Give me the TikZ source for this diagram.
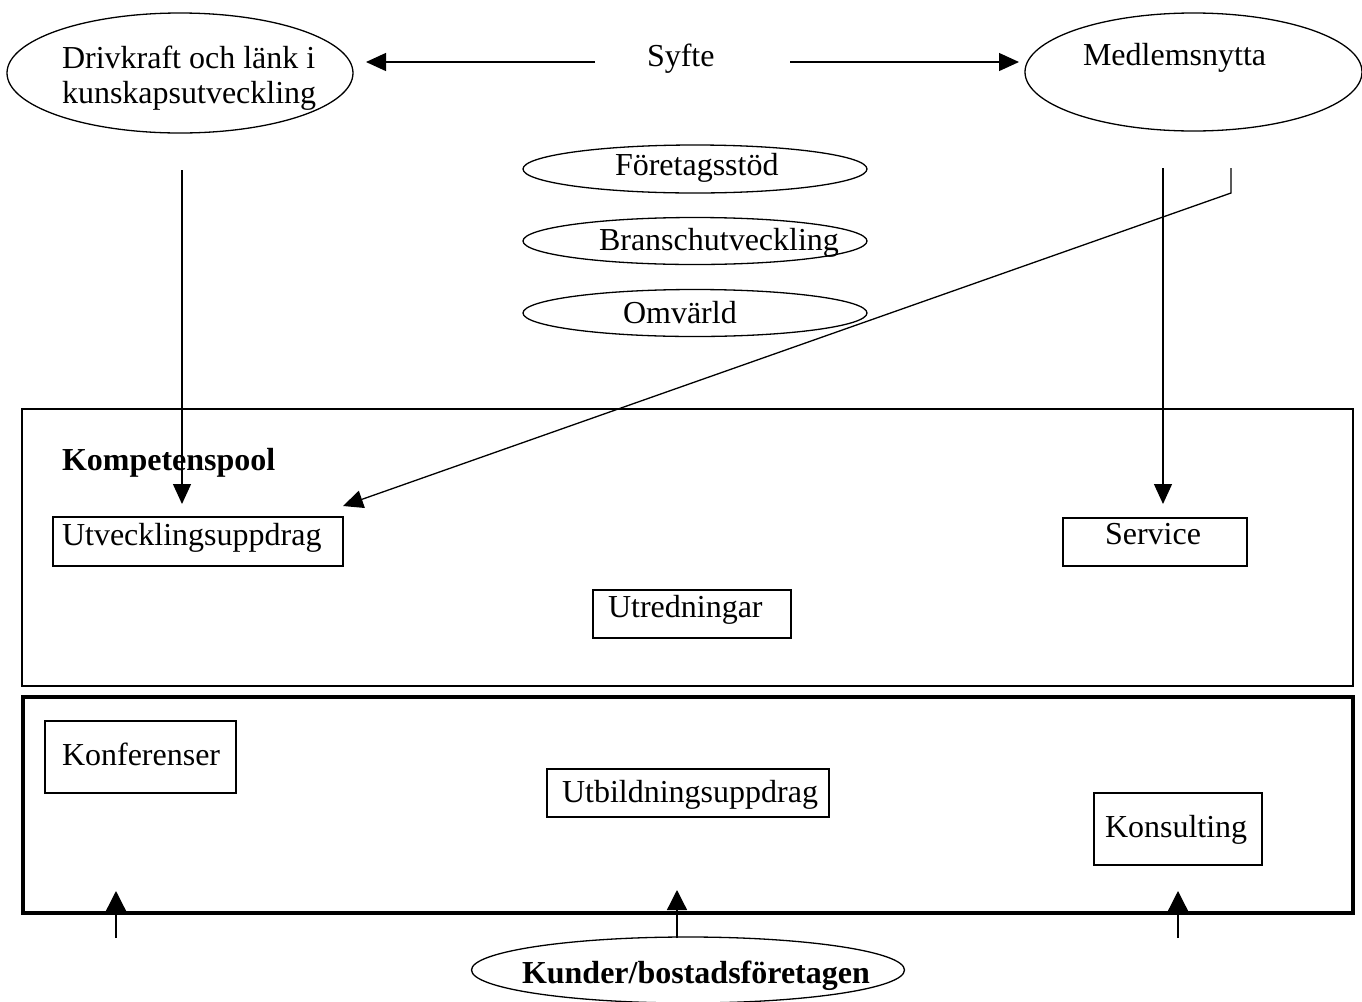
\documentclass[tikz,border=0pt]{standalone}
\usepackage{fontspec}
\setmainfont{Liberation Serif}
\usetikzlibrary{arrows.meta,shapes.geometric,fit}
\tikzset{
  lbl/.style={anchor=base west, inner sep=0pt, outer sep=0pt, font=\fontsize{16}{19}\selectfont},
  blbl/.style={lbl, font=\fontsize{16}{19}\selectfont\bfseries},
  oval/.style={draw, ellipse, inner sep=0pt, outer sep=0pt, line width=0.65pt},
  box/.style={draw, rectangle, inner sep=0pt, outer sep=0pt, line width=0.65pt},
  thickbox/.style={draw, rectangle, inner sep=0pt, outer sep=0pt, line width=2.1pt},
  arr/.style={line width=0.65pt, -{Triangle[length=10pt,width=9pt]}},
  uarr/.style={line width=0.65pt, -{Triangle[length=10pt,width=10pt]}}
}
\begin{document}
\begin{tikzpicture}[x=0.5pt,y=-0.5pt]
\useasboundingbox (0,0) rectangle (1362,1002);
% ellipses
\node[oval, minimum width=173pt, minimum height=60pt] (e1) at (180,73) {};
\node[oval, minimum width=168.5pt, minimum height=59pt] (e2) at (1193.5,72) {};
\node[oval, minimum width=172pt, minimum height=24pt] (ef) at (695,169) {};
\node[oval, minimum width=172pt, minimum height=23.5pt] (eb) at (695,241) {};
\node[oval, minimum width=172pt, minimum height=23.5pt] (eo) at (695,313) {};
\node[oval, minimum width=216.5pt, minimum height=33pt] (ek) at (688,970) {};
% boxes
\node[box, fit={(22,409) (1353,686)}] (komp) {};
\node[thickbox, fit={(23,697) (1353,913)}] (kund) {};
\node[box, fit={(53,517) (343,566)}] (butv) {};
\node[box, fit={(1063,518) (1247,566)}] (bserv) {};
\node[box, fit={(593,590) (791,638)}] (butr) {};
\node[box, fit={(45,721) (236,793)}] (bkonf) {};
\node[box, fit={(547,769) (829,817)}] (butb) {};
\node[box, fit={(1094,793) (1262,865)}] (bkons) {};
% texts
\node[lbl] (t1a) at (62,68) {Drivkraft och länk i};
\node[lbl] (t1b) at (62,103) {kunskapsutveckling};
\node[lbl] (tsyfte) at (647,66) {Syfte};
\node[lbl] (tmed) at (1083,65) {Medlemsnytta};
\node[lbl] (tfor) at (615,175) {Företagsstöd};
\node[lbl] (tbra) at (599,250) {Branschutveckling};
\node[lbl] (tomv) at (623,323) {Omvärld};
\node[blbl] (tkomp) at (62,470) {Kompetenspool};
\node[lbl] (tutv) at (62,545) {Utvecklingsuppdrag};
\node[lbl] (tserv) at (1105,544) {Service};
\node[lbl] (tutr) at (608,617) {Utredningar};
\node[lbl] (tkonf) at (62,765) {Konferenser};
\node[lbl] (tutb) at (562,802) {Utbildningsuppdrag};
\node[lbl] (tkons) at (1105,837) {Konsulting};
\node[blbl] (tkund) at (522,983) {Kunder/bostadsföretagen};
% connector coordinates
\coordinate (sylS) at (595,62); \coordinate (sylE) at (366,62);
\coordinate (syrS) at (790,62); \coordinate (syrE) at (1019,62);
\coordinate (lvS) at (182,170); \coordinate (lvE) at (182,504);
\coordinate (rvS) at (1163,168); \coordinate (rvE) at (1163,504);
\coordinate (bS) at (1231,168); \coordinate (bK) at (1231,193); \coordinate (bE) at (343,506);
\coordinate (a1S) at (116,938); \coordinate (a1E) at (116,891);
\coordinate (a2S) at (677,938); \coordinate (a2E) at (677,890);
\coordinate (a3S) at (1178,938); \coordinate (a3E) at (1178,891);
% connectors
\draw[arr] (sylS) -- (sylE);
\draw[arr] (syrS) -- (syrE);
\draw[arr] (lvS) -- (lvE);
\draw[arr] (rvS) -- (rvE);
\draw[arr] (bS) -- (bK) -- (bE);
\draw[uarr] (a1S) -- (a1E);
\draw[uarr] (a2S) -- (a2E);
\draw[uarr] (a3S) -- (a3E);
\end{tikzpicture}
\end{document}
